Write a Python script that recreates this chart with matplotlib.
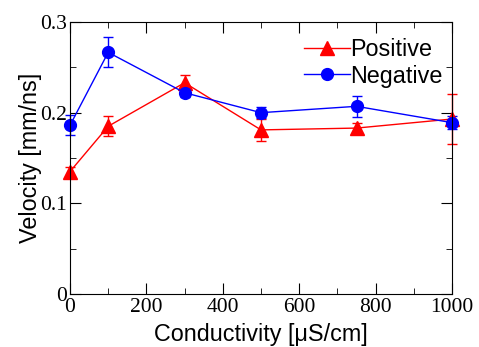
import numpy as np
import matplotlib.pyplot as plt
from matplotlib.ticker import MultipleLocator

# conductivity [uS/cm]
cond = [0, 100, 300, 500, 750, 1000]

pos_v = [0.135, 0.185, 0.233, 0.181, 0.183, 0.193]
pos_err = [0.005, 0.011, 0.009, 0.012, 0.006, 0.028]

neg_v = [0.186, 0.2665, 0.222, 0.200, 0.207, 0.189]
neg_err = [0.011, 0.0165, 0.005, 0.006, 0.0115, 0.0075]

fig = plt.figure(figsize=(4.79, 3.47), dpi=100)
ax = fig.add_axes([70/479, 1 - 294/347, (452-70)/479, (294-22)/347])

def plot_series(y, err, color, marker, ms, label):
    cont = ax.errorbar(cond, y, yerr=err, color=color, marker=marker, markersize=ms,
                       lw=1, capsize=3.6, elinewidth=1, label=label)
    cont[0].set_clip_on(False)
    for a in cont[1]:
        a.set_clip_on(False)
    for a in cont[2]:
        a.set_clip_on(False)
    return cont[0]

l1 = plot_series(pos_v, pos_err, 'red', '^', 10, 'Positive')
l2 = plot_series(neg_v, neg_err, 'blue', 'o', 8.5, 'Negative')

ax.set_xlim(0, 1000)
ax.set_ylim(0, 0.3)
ax.xaxis.set_major_locator(MultipleLocator(200))
ax.xaxis.set_minor_locator(MultipleLocator(100))
ax.yaxis.set_minor_locator(MultipleLocator(0.05))
ax.set_yticks([0, 0.1, 0.2, 0.3])
ax.set_yticklabels(['0', '0.1', '0.2', '0.3'])
ax.tick_params(which='both', direction='in', top=True, right=True)
ax.tick_params(which='major', length=8, labelsize=15.5)
ax.tick_params(which='minor', length=4)
ax.tick_params(axis='x', pad=3)
ax.tick_params(axis='y', pad=2)
for lab in ax.get_xticklabels() + ax.get_yticklabels():
    lab.set_family('Liberation Serif')

ax.set_xlabel('Conductivity [\u03bcS/cm]', family='Liberation Sans', fontsize=16.8, labelpad=4.5)
ax.set_ylabel('Velocity [mm/ns]', family='Liberation Sans', fontsize=16.8, labelpad=-1)

ax.legend(handles=[l1, l2], labels=['Positive', 'Negative'], loc='upper right', frameon=False,
          prop={'family': 'Liberation Sans', 'size': 16.8},
          handlelength=2.0, handletextpad=0.0, borderaxespad=0.0, labelspacing=0.15,
          bbox_to_anchor=(1.0, 0.975))

fig.savefig('out.png', dpi=100)
